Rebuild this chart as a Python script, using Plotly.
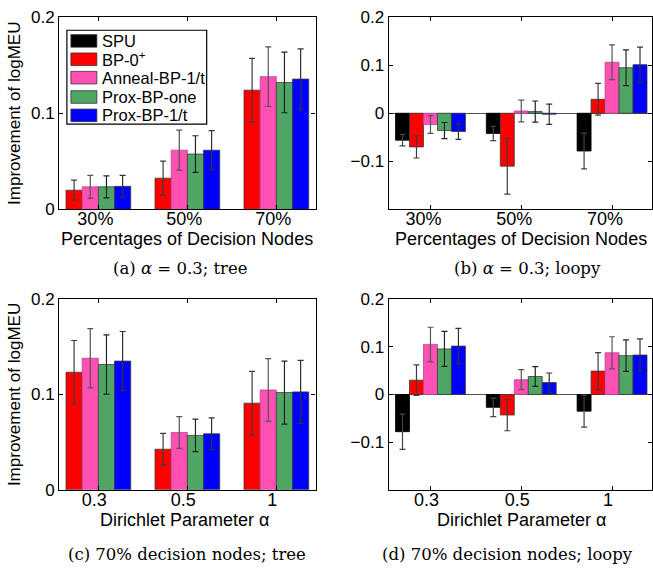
import plotly.graph_objects as go

# ---------------- data ----------------
series_names = ["SPU", "BP-0<sup>+</sup>", "Anneal-BP-1/t", "Prox-BP-one", "Prox-BP-1/t"]
series_colors = ["#000000", "#FF0000", "#FF50B4", "#4FA664", "#0000FF"]
edge_colors = ["#000000", "#3a3a3a", "#b04a8a", "#3a3a3a", "#3a3a3a"]
err_colors = ["#444444", "#3c3c3c", "#555555", "#222222", "#333333"]

pct_labels = ["30%", "50%", "70%"]
alpha_labels = ["0.3", "0.5", "1"]

# tree panels hold no SPU bars: rows = BP-0+, Anneal, Prox-one, Prox-1/t
a_mean = [[0.020, 0.0325, 0.124],
          [0.0235, 0.0616, 0.138],
          [0.0235, 0.0576, 0.132],
          [0.024, 0.0616, 0.1355]]
a_err = [[0.0104, 0.0178, 0.033],
         [0.012, 0.0208, 0.031],
         [0.0114, 0.019, 0.0315],
         [0.0114, 0.0204, 0.0315]]

c_mean = [[0.1233, 0.0426, 0.0909],
          [0.138, 0.0601, 0.1047],
          [0.1314, 0.0571, 0.102],
          [0.135, 0.0588, 0.1027]]
c_err = [[0.0333, 0.0166, 0.0333],
         [0.031, 0.0167, 0.0328],
         [0.031, 0.017, 0.033],
         [0.031, 0.0167, 0.033]]

# loopy panels: rows = SPU, BP-0+, Anneal, Prox-one, Prox-1/t
b_mean = [[-0.056, -0.042, -0.0785],
          [-0.070, -0.110, 0.029],
          [-0.0235, 0.0047, 0.106],
          [-0.036, 0.0034, 0.0946],
          [-0.038, -0.002, 0.101]]
b_err = [[0.012, 0.015, 0.037],
         [0.023, 0.058, 0.033],
         [0.0185, 0.0225, 0.036],
         [0.0168, 0.022, 0.037],
         [0.0165, 0.021, 0.0365]]

d_mean = [[-0.078, -0.027, -0.035],
          [0.030, -0.043, 0.049],
          [0.105, 0.031, 0.0874],
          [0.0955, 0.0377, 0.0814],
          [0.1015, 0.025, 0.0827]]
d_err = [[0.037, 0.0195, 0.0336],
         [0.032, 0.033, 0.0387],
         [0.036, 0.021, 0.0336],
         [0.0366, 0.0205, 0.033],
         [0.037, 0.02, 0.034]]

tree_yticks = [0, 0.1, 0.2]
tree_yticktext = ["0", "0.1", "0.2"]
loopy_yticks = [-0.1, 0, 0.1, 0.2]
loopy_yticktext = ["\u22120.1", "0", "0.1", "0.2"]

x_titles = ["Percentages of Decision Nodes", "Percentages of Decision Nodes",
            "Dirichlet Parameter \u03b1", "Dirichlet Parameter \u03b1"]
y_title = "Improvement of logMEU"
captions = ["(a) <i>\u03b1</i> = 0.3; tree", "(b) <i>\u03b1</i> = 0.3; loopy",
            "(c) 70% decision nodes; tree", "(d) 70% decision nodes; loopy"]

# ---------------- figure ----------------
W, H = 653, 575
fig = go.Figure()

SANS = "Liberation Sans, Arial, Helvetica, sans-serif"
SERIF = "DejaVu Serif, serif"


def px(x):
    return x / W


def py(y):
    return 1 - y / H


def add_panel(xlabels, means, errs, series_idx, xa, ya, group_frac):
    n = len(series_idx)
    w = group_frac / n
    for k, s in enumerate(series_idx):
        fig.add_trace(go.Bar(
            x=xlabels, y=means[k],
            name=series_names[s],
            width=w, offset=-group_frac / 2 + k * w,
            marker=dict(color=series_colors[s],
                        line=dict(color=edge_colors[s], width=0.8)),
            error_y=dict(type="data", array=errs[k], color=err_colors[s],
                         thickness=1.2, width=3),
            xaxis=xa, yaxis=ya,
            showlegend=False,
        ))


add_panel(pct_labels, a_mean, a_err, [1, 2, 3, 4], "x", "y", 0.727)
add_panel(pct_labels, b_mean, b_err, [0, 1, 2, 3, 4], "x2", "y2", 0.77)
add_panel(alpha_labels, c_mean, c_err, [1, 2, 3, 4], "x3", "y3", 0.727)
add_panel(alpha_labels, d_mean, d_err, [0, 1, 2, 3, 4], "x4", "y4", 0.77)

top_dom = [py(207.3), py(8.3)]
bot_dom = [py(497.3), py(300)]
left_dom = [px(59.3), px(316)]
right_dom = [px(389.3), 1.0]

common_x = dict(type="category", showline=True, linecolor="black", linewidth=1.4,
                mirror="ticks", ticks="inside", ticklen=4, tickcolor="black",
                tickfont=dict(family=SANS, size=18, color="black"),
                ticklabelstandoff=-7,
                showgrid=False, zeroline=False, fixedrange=True)
common_y = dict(showline=True, linecolor="black", linewidth=1.4,
                mirror="ticks", ticks="inside", ticklen=4, tickcolor="black",
                tickfont=dict(family=SANS, size=17, color="black"),
                showgrid=False, fixedrange=True)

yt = dict(text=y_title, font=dict(family=SANS, size=17, color="black"), standoff=6)

fig.update_layout(
    width=W, height=H,
    margin=dict(l=0, r=0, t=0, b=0),
    paper_bgcolor="white", plot_bgcolor="white",
    barmode="overlay", showlegend=False,
    xaxis=dict(common_x, domain=left_dom, anchor="y", range=[-0.44, 2.44],
               ticklabelshift=-3),
    yaxis=dict(common_y, domain=top_dom, anchor="x", range=[0, 0.2],
               tickvals=tree_yticks, ticktext=tree_yticktext, zeroline=False, title=yt),
    xaxis2=dict(common_x, domain=right_dom, anchor="y2", range=[-0.46, 2.44],
                ticklabelshift=-7),
    yaxis2=dict(common_y, domain=top_dom, anchor="x2", range=[-0.2, 0.2],
                tickvals=loopy_yticks, ticktext=loopy_yticktext,
                zeroline=True, zerolinecolor="#555555", zerolinewidth=1.3),
    xaxis3=dict(common_x, domain=left_dom, anchor="y3", range=[-0.44, 2.44],
                ticklabelshift=-4),
    yaxis3=dict(common_y, domain=bot_dom, anchor="x3", range=[0, 0.2],
                tickvals=tree_yticks, ticktext=tree_yticktext, zeroline=False, title=yt),
    xaxis4=dict(common_x, domain=right_dom, anchor="y4", range=[-0.46, 2.44],
                ticklabelshift=-4),
    yaxis4=dict(common_y, domain=bot_dom, anchor="x4", range=[-0.2, 0.2],
                tickvals=loopy_yticks, ticktext=loopy_yticktext,
                zeroline=True, zerolinecolor="#555555", zerolinewidth=1.3),
)

# ---- x-axis titles ----
xt_pos = [(187.5, 237.5), (521.5, 237.5), (185, 528), (522, 528)]
for text, (cx, cy) in zip(x_titles, xt_pos):
    fig.add_annotation(text=text, x=px(cx), y=py(cy), xref="paper", yref="paper",
                       showarrow=False, xanchor="center", yanchor="middle",
                       font=dict(family=SANS, size=18, color="black"))

# ---- legend drawn inside panel (a) ----
shapes = [dict(type="rect", xref="paper", yref="paper",
               x0=px(67), x1=px(207), y0=py(119), y1=py(22),
               line=dict(color="black", width=1.2), fillcolor="white", layer="above")]
legend_rows = [33, 52, 71, 91, 110]
for s, ry in enumerate(legend_rows):
    shapes.append(dict(type="rect", xref="paper", yref="paper",
                       x0=px(71), x1=px(97), y0=py(ry + 6.5), y1=py(ry - 6.5),
                       line=dict(color="#333333", width=0.8),
                       fillcolor=series_colors[s], layer="above"))
    fig.add_annotation(text=series_names[s], x=px(100), y=py(ry), xref="paper", yref="paper",
                       showarrow=False, xanchor="left", yanchor="middle",
                       font=dict(family=SANS, size=16.5, color="black"))
fig.update_layout(shapes=shapes)

cap_pos = [(181, 268), (528, 268), (187, 564), (508, 564)]
for text, (cx, cy) in zip(captions, cap_pos):
    fig.add_annotation(text=text, x=px(cx), y=py(cy), xref="paper", yref="paper",
                       showarrow=False, xanchor="center", yanchor="middle",
                       font=dict(family=SERIF, size=16.5, color="black"))

fig.write_html("out.html",
               config={"displayModeBar": False},
               post_script="document.documentElement.style.margin='0px';"
                           "document.documentElement.style.overflow='hidden';"
                           "document.body.style.margin='0px';"
                           "document.body.style.overflow='hidden';")
